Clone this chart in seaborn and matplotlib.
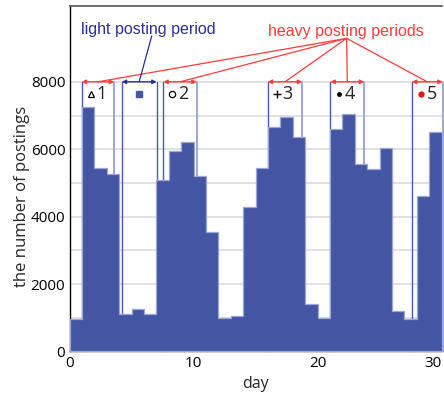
import numpy as np
import pandas as pd
import matplotlib
matplotlib.use("Agg")
import matplotlib.pyplot as plt
import seaborn as sns

# Daily posting counts over a 30-day window
day = list(range(30))
postings = [950, 7250, 5450, 5250, 1100, 1250, 1100, 5100, 5950, 6200,
            5200, 3550, 1000, 1050, 4300, 5450, 6650, 6950, 6350, 1400,
            1000, 6600, 7050, 5550, 5400, 6050, 1200, 950, 4600, 6500]

# Annotated periods (start day, end day)
heavy_periods = [(0.98, 3.61), (7.56, 10.26), (15.98, 18.77), (21.03, 23.77), (27.6, 30.1)]
heavy_labels = ["1", "2", "3", "4", "5"]
light_period = (4.21, 7.03)

BAR = "#4355a3"
BAR_EDGE = "#9ba5d6"
RED = "#ff3b3b"
DARKBLUE = "#2b2f92"
LINE_BLUE = "#4a5aae"
LINE_LIGHT = "#8f9ad0"

sns.set_theme(style="white")
plt.rcParams["font.family"] = ["Open Sans", "DejaVu Sans"]

fig = plt.figure(figsize=(4.44, 3.94), dpi=100)
ax = fig.add_axes([69.5 / 444, 1 - 351.4 / 394, 372 / 444, 345.4 / 394])

df = pd.DataFrame({"day": day, "postings": postings})
sns.histplot(data=df, x="day", weights="postings", binwidth=1, binrange=(0, 30),
             element="step", fill=True, color=BAR, alpha=1,
             edgecolor=BAR_EDGE, linewidth=0.9, ax=ax, zorder=3)

ax.set_xlim(0, 30)
ax.set_ylim(0, 10250)

# grid lines every 1000 up to 8000
ax.set_yticks(np.arange(0, 8001, 2000))
ax.set_yticks(np.arange(1000, 8000, 2000), minor=True)
ax.set_xticks([0, 10, 20, 30])
ax.grid(axis="y", which="both", color="#dcdcdc", linewidth=1.2, zorder=0)
ax.set_axisbelow(True)
ax.tick_params(axis="both", which="both", length=0, labelsize=11, colors="black")
ax.tick_params(axis="y", pad=3)
ax.tick_params(axis="x", pad=3)
ax.get_xticklabels()[-1].set_horizontalalignment("right")

ax.set_xlabel("day", fontsize=11.5)
ax.set_ylabel("the number of postings", fontsize=12)
ax.yaxis.set_label_coords(-0.107, 0.448)

for side in ["left", "bottom"]:
    ax.spines[side].set_color("black")
    ax.spines[side].set_linewidth(1.0)
ax.spines["top"].set_color("#555555")
ax.spines["top"].set_linewidth(1.2)
ax.spines["right"].set_visible(False)

y_arrow = 8000
y_label = 7650

# vertical period boundaries
for s, e in heavy_periods:
    ax.plot([s, s], [0, y_arrow], color=LINE_BLUE, lw=1.0, zorder=2, clip_on=False)
    ax.plot([e, e], [0, y_arrow], color=LINE_LIGHT, lw=1.2, zorder=2, clip_on=False)
for x in light_period:
    ax.plot([x, x], [0, y_arrow], color=LINE_BLUE, lw=1.0, zorder=2)

# period arrows
for s, e in heavy_periods:
    ax.annotate("", xy=(e, y_arrow), xytext=(s, y_arrow),
                arrowprops=dict(arrowstyle="<|-|>", color=RED, lw=1.0,
                                mutation_scale=6, shrinkA=0, shrinkB=0),
                annotation_clip=False, zorder=5)
ax.annotate("", xy=(light_period[1], y_arrow), xytext=(light_period[0], y_arrow),
            arrowprops=dict(arrowstyle="<|-|>", color=DARKBLUE, lw=1.0,
                            mutation_scale=6, shrinkA=0, shrinkB=0),
            zorder=5)

# markers and numbers inside each period
marker_styles = [
    dict(marker="^", mfc="white", mec="black", ms=5, mew=0.9),
    dict(marker="o", mfc="white", mec="black", ms=4.5, mew=0.9),
    dict(marker="+", mfc="black", mec="black", ms=5.5, mew=1.0),
    dict(marker="o", mfc="black", mec="black", ms=3.5, mew=0),
    dict(marker="o", mfc="#ee1111", mec="#ee1111", ms=4.5, mew=0),
]
for (s, e), lab, st in zip(heavy_periods, heavy_labels, marker_styles):
    ax.plot([s + 0.72], [y_label], linestyle="none", zorder=6, clip_on=False, **st)
    ax.text(s + 1.6, y_label, lab, ha="center", va="center", fontsize=13, zorder=6)
ax.plot([(light_period[0] + light_period[1]) / 2], [y_label], marker="s",
        color=BAR, ms=4, linestyle="none", zorder=6)

# callout labels with leader lines
hx, hy = 22.35, 9290
for s, e in heavy_periods:
    ax.plot([hx, (s + e) / 2], [hy, y_arrow], color=RED, lw=0.9, zorder=4, clip_on=False)
ax.text(22.3, 9480, "heavy posting periods", color=RED, fontsize=11.5,
        ha="center", va="center", family=["Liberation Sans", "DejaVu Sans"])

lx, ly = 6.63, 9360
ax.plot([lx, sum(light_period) / 2], [ly, y_arrow], color=DARKBLUE, lw=0.9, zorder=4)
ax.text(6.38, 9540, "light posting period", color=DARKBLUE, fontsize=11.5,
        ha="center", va="center", family=["Liberation Sans", "DejaVu Sans"])

fig.savefig("out.png", dpi=100)
